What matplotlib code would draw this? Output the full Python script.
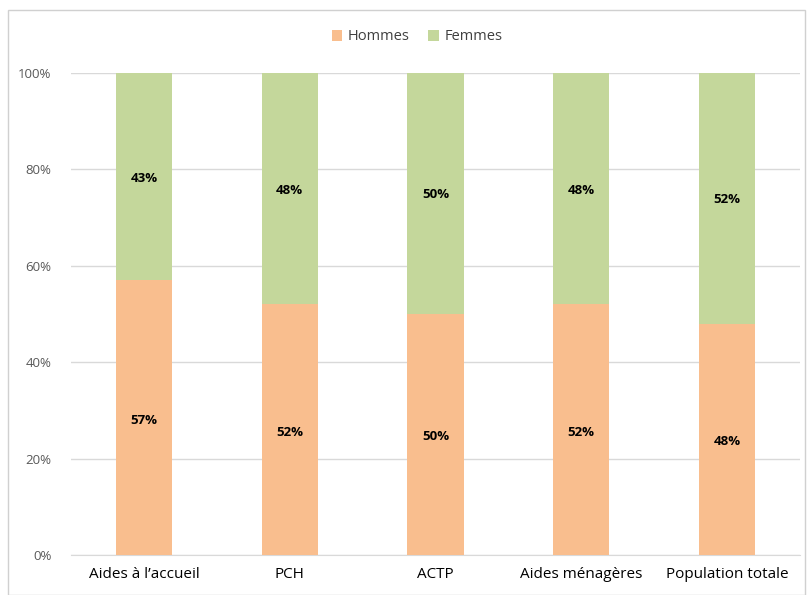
import matplotlib
matplotlib.use("Agg")
import matplotlib.pyplot as plt
from matplotlib.patches import Rectangle
from matplotlib.ticker import PercentFormatter

categories = ["Aides à l\u2019accueil", "PCH", "ACTP", "Aides ménagères", "Population totale"]
hommes = [57, 52, 50, 52, 48]
femmes = [43, 48, 50, 48, 52]
yticks = [0, 20, 40, 60, 80, 100]

c_h = "#F9BE8E"
c_f = "#C4D79B"

plt.rcParams['font.family'] = ['Open Sans', 'DejaVu Sans']

fig = plt.figure(figsize=(8.07, 5.95), dpi=100)
ax = fig.add_axes([71/807, 1-555/595, (800-71)/807, (555-73)/595])

x = range(len(categories))
bw = 0.385
b1 = ax.bar(x, hommes, width=bw, color=c_h, label="Hommes", zorder=3)
b2 = ax.bar(x, femmes, width=bw, bottom=hommes, color=c_f, label="Femmes", zorder=3)
for i, (h, f) in enumerate(zip(hommes, femmes)):
    ax.text(i, h/2 - 0.5, f"{h}%", ha='center', va='center', fontsize=9.5, fontweight='bold', color='black', zorder=4)
    ax.text(i, h + f/2 - 0.3, f"{f}%", ha='center', va='center', fontsize=9.5, fontweight='bold', color='black', zorder=4)

ax.set_xlim(-0.5, len(categories)-0.5)
ax.set_ylim(0, 100)
ax.set_yticks(yticks)
ax.yaxis.set_major_formatter(PercentFormatter(decimals=0))
ax.set_xticks(list(x))
ax.set_xticklabels(categories, fontsize=11, color='black')
ax.tick_params(axis='y', labelsize=9.5, colors='#595959', length=0, pad=14)
ax.tick_params(axis='x', length=0, pad=9)
ax.grid(axis='y', color='#D9D9D9', linewidth=1, zorder=0)
for s in ['top', 'right', 'left']:
    ax.spines[s].set_visible(False)
ax.spines['bottom'].set_color('#D9D9D9')

fig.legend(handles=[b1, b2], labels=["Hommes", "Femmes"], loc='center', bbox_to_anchor=(417/807, 1-37/595),
           ncol=2, frameon=False, fontsize=10.5, handlelength=0.7, handleheight=0.7, columnspacing=1.3, handletextpad=0.4,
           labelcolor='#404040')

fig.patches.append(Rectangle((8/807, 0), (805-8)/807, 1-10/595, transform=fig.transFigure,
                             fill=False, edgecolor='#D0D0D0', linewidth=1))

fig.savefig("out.png", dpi=100)
